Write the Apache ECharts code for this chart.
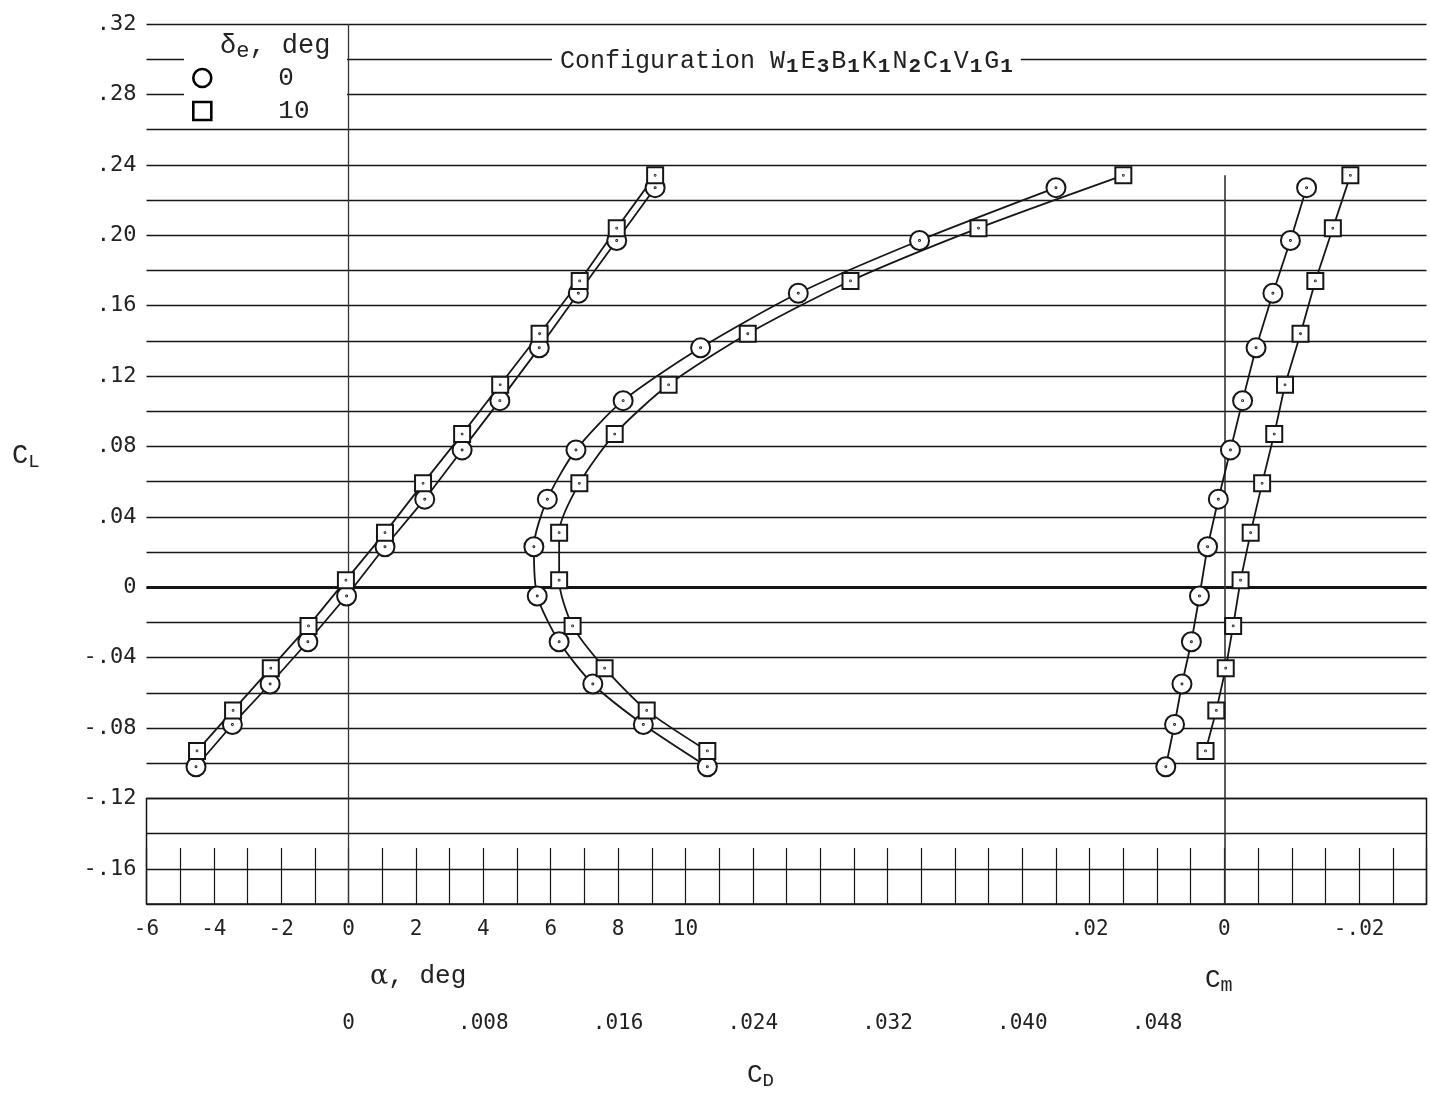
<!DOCTYPE html>
<html><head><meta charset="utf-8">
<script src="https://cdn.jsdelivr.net/npm/echarts@6/dist/echarts.min.js"></script>
<style>html,body{margin:0;padding:0;background:#fff}#c{width:1430px;height:1093px}</style>
</head><body><div id="c"></div>
<script>
// ---- data ----
const seriesNames = ['0', '10'];            // delta_e, deg
const clCircle    = [-0.102,-0.078,-0.055,-0.031,-0.005,0.023,0.050,0.078,0.106,0.136,0.167,0.197,0.227];
const alphaCircle = [-4.53,-3.45,-2.33,-1.21,-0.06,1.08,2.26,3.37,4.49,5.66,6.82,7.96,9.10];
const cdCircle    = [0.0213,0.0175,0.0145,0.0125,0.0112,0.0110,0.0118,0.0135,0.0163,0.0209,0.0267,0.0339,0.0420];
const cmCircle    = [0.0087,0.0074,0.0063,0.0049,0.0037,0.0025,0.0009,-0.0009,-0.0027,-0.0047,-0.0072,-0.0098,-0.0122];
const clSquare    = [-0.093,-0.070,-0.046,-0.022,0.004,0.031,0.059,0.087,0.115,0.144,0.174,0.204,0.234];
const alphaSquare = [-4.50,-3.43,-2.31,-1.19,-0.08,1.08,2.21,3.37,4.50,5.67,6.86,7.96,9.10];
const cdSquare    = [0.0213,0.0177,0.0152,0.0133,0.0125,0.0125,0.0137,0.0158,0.0190,0.0237,0.0298,0.0374,0.0460];
const cmSquare    = [0.0028,0.0012,-0.0002,-0.0013,-0.0024,-0.0039,-0.0056,-0.0074,-0.0090,-0.0113,-0.0135,-0.0161,-0.0187];

const clTickLabels    = [-0.16,-0.12,-0.08,-0.04,0,0.04,0.08,0.12,0.16,0.20,0.24,0.28,0.32];
const alphaTickLabels = [-6,-4,-2,0,2,4,6,8,10];
const cdTickLabels    = [0,0.008,0.016,0.024,0.032,0.040,0.048];
const cmTickLabels    = [0.02,0,-0.02];

// ---- helpers ----
function pairs(xs, ys){ return xs.map((x,i)=>[x, ys[i]]); }
function inList(list, v){ return list.some(t => Math.abs(t - v) < 1e-9); }
function dec(v, d){
  if (Math.abs(v) < 1e-12) return '0';
  const s = Math.abs(v).toFixed(d).replace(/^0/, '');
  return (v < 0 ? '-' : '') + s;
}

const INK = '#161616';
const tickFont = {fontFamily:'DejaVu Sans Mono', fontSize:21, color:'#222'};
const typeFont = 'Liberation Mono';
const circleSym = 'path://M0,10A10,10,0,1,0,20,10A10,10,0,1,0,0,10ZM9.5,10A0.5,0.5,0,1,0,10.5,10A0.5,0.5,0,1,0,9.5,10Z';
const squareSym = 'path://M0,0L20,0L20,20L0,20ZM9.5,10A0.5,0.5,0,1,0,10.5,10A0.5,0.5,0,1,0,9.5,10Z';
const lineStyle = {color: INK, width: 1.8};
const itemStyle = {color:'#fff', borderColor: INK, borderWidth: 2};
const noSym = ['none','none'];

const G = {left:146.5, right:3.5, top:24, bottom:189};

const chart = echarts.init(document.getElementById('c'), null, {renderer:'canvas'});
chart.setOption({
  animation:false,
  backgroundColor:'#fff',
  title:{
    text:'Configuration W{s|1}E{s|3}B{s|1}K{s|1}N{s|2}C{s|1}V{s|1}G{s|1}',
    left:552, top:44, backgroundColor:'#fff', padding:[2,8,2,8],
    textStyle:{fontFamily:typeFont, fontSize:25, color:'#222', fontWeight:'normal',
      rich:{s:{fontFamily:typeFont, fontSize:21, fontWeight:'bold', color:'#222', padding:[10,2,0,1]}}}
  },
  legend:{
    data:[{name:seriesNames[0], icon:'circle'},{name:seriesNames[1], icon:'rect'}],
    orient:'vertical', left:187, top:60, itemWidth:18, itemHeight:18, itemGap:7,
    selectedMode:false,
    itemStyle:{color:'#fff', borderColor:'#000', borderWidth:2.6},
    textStyle:{fontFamily:typeFont, fontSize:26, color:'#222', lineHeight:18, padding:[0,0,0,62]}
  },
  grid:[
    {left:G.left, right:G.right, top:G.top, bottom:G.bottom},
    {left:G.left, right:G.right, top:798.4, bottom:G.bottom, show:true, borderColor:INK, borderWidth:1.5, backgroundColor:'transparent'}
  ],
  xAxis:[
    {type:'value', gridIndex:0, min:-6, max:32, interval:2, position:'bottom',
     axisLine:{show:false}, axisTick:{show:false}, splitLine:{show:false},
     axisLabel:Object.assign({margin:15, showMinLabel:true, showMaxLabel:true,
       formatter:v => inList(alphaTickLabels, v) ? String(Math.round(v)) : ''}, tickFont)},
    {type:'value', gridIndex:0, min:-0.012, max:0.064, interval:0.004, position:'bottom', offset:94,
     axisLine:{show:false}, axisTick:{show:false}, splitLine:{show:false},
     axisLabel:Object.assign({margin:15, showMinLabel:true, showMaxLabel:true,
       formatter:v => inList(cdTickLabels, v) ? dec(v,3) : ''}, tickFont)},
    {type:'value', gridIndex:0, min:-0.03, max:0.16, interval:0.01, inverse:true, position:'bottom',
     axisLine:{show:false}, axisTick:{show:false}, splitLine:{show:false},
     axisLabel:Object.assign({margin:15, showMinLabel:true, showMaxLabel:true,
       formatter:v => inList(cmTickLabels, v) ? dec(v,2) : ''}, tickFont)},
    {type:'value', gridIndex:1, min:-6, max:32, interval:1, position:'bottom',
     axisLine:{show:false}, splitLine:{show:false}, axisLabel:{show:false},
     axisTick:{show:true, inside:true, length:56, lineStyle:{color:INK, width:1.2}}}
  ],
  yAxis:[
    {type:'value', gridIndex:0, min:-0.18, max:0.32, interval:0.02,
     axisLine:{show:false}, axisTick:{show:false},
     splitLine:{show:true, lineStyle:{color:INK, width:1.3}},
     axisLabel:Object.assign({margin:10, showMinLabel:true, showMaxLabel:true,
       formatter:v => inList(clTickLabels, v) ? dec(v,2) : ''}, tickFont, {fontSize:22})},
    {type:'value', gridIndex:1, min:0, max:1, show:false}
  ],
  graphic:[
    {type:'rect', left:184, top:26, shape:{width:163, height:101}, style:{fill:'#fff'}, z:3},
    {type:'text', left:220, top:32, z:5, style:{text:'{a|δ}{b|e}{a|, deg}',
      rich:{a:{fontFamily:typeFont, fontSize:27, fill:'#222'}, b:{fontFamily:typeFont, fontSize:22, fill:'#222', padding:[12,0,0,0]}}}},
    {type:'text', left:12, top:442, z:5, style:{text:'{a|C}{b|L}',
      rich:{a:{fontFamily:typeFont, fontSize:27, fill:'#222'}, b:{fontFamily:typeFont, fontSize:19, fill:'#222', padding:[12,0,0,0]}}}},
    {type:'text', left:370, top:963, z:5, style:{text:'{g|α}{a|, deg}',
      rich:{g:{fontFamily:'DejaVu Serif', fontSize:27, fill:'#222'}, a:{fontFamily:typeFont, fontSize:26, fill:'#222'}}}},
    {type:'text', left:1205, top:967, z:5, style:{text:'{a|C}{b|m}',
      rich:{a:{fontFamily:typeFont, fontSize:26, fill:'#222'}, b:{fontFamily:typeFont, fontSize:20, fill:'#222', padding:[12,0,0,0]}}}},
    {type:'text', left:747, top:1062, z:5, style:{text:'{a|C}{b|D}',
      rich:{a:{fontFamily:typeFont, fontSize:26, fill:'#222'}, b:{fontFamily:typeFont, fontSize:19, fill:'#222', padding:[12,0,0,0]}}}}
  ],
  series:[
    {name:seriesNames[0], type:'line', xAxisIndex:0, yAxisIndex:0, data:pairs(alphaCircle, clCircle),
     symbol:circleSym, symbolSize:19, lineStyle, itemStyle, z:3,
     markLine:{silent:true, symbol:noSym, label:{show:false}, z:2,
       data:[{xAxis:0, lineStyle:{color:'#333', width:1.3, type:'solid'}},
             {yAxis:0, lineStyle:{color:INK, width:2.8, type:'solid'}}]}},
    {name:seriesNames[1], type:'line', xAxisIndex:0, yAxisIndex:0, data:pairs(alphaSquare, clSquare),
     symbol:squareSym, symbolSize:16, lineStyle, itemStyle, z:3},
    {name:seriesNames[0], type:'line', xAxisIndex:1, yAxisIndex:0, data:pairs(cdCircle, clCircle),
     symbol:circleSym, symbolSize:19, lineStyle, itemStyle, z:3, smooth:0.25},
    {name:seriesNames[1], type:'line', xAxisIndex:1, yAxisIndex:0, data:pairs(cdSquare, clSquare),
     symbol:squareSym, symbolSize:16, lineStyle, itemStyle, z:3, smooth:0.25},
    {name:seriesNames[0], type:'line', xAxisIndex:2, yAxisIndex:0, data:pairs(cmCircle, clCircle),
     symbol:circleSym, symbolSize:19, lineStyle, itemStyle, z:3,
     markLine:{silent:true, symbol:noSym, label:{show:false}, z:2,
       data:[[{coord:[0, 0.234]}, {coord:[0, -0.18]}]], lineStyle:{color:'#333', width:1.6, type:'solid'}}},
    {name:seriesNames[1], type:'line', xAxisIndex:2, yAxisIndex:0, data:pairs(cmSquare, clSquare),
     symbol:squareSym, symbolSize:16, lineStyle, itemStyle, z:3}
  ]
});
</script></body></html>
